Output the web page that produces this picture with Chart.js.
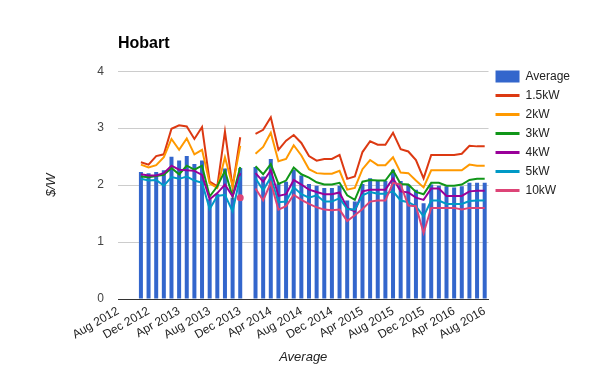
<!DOCTYPE html>
<html>
<head>
<meta charset="utf-8">
<script src="https://cdn.jsdelivr.net/npm/chart.js@4/dist/chart.umd.min.js"></script>
<style>
  html, body { margin: 0; padding: 0; background: #fff; }
</style>
</head>
<body>
<canvas id="chart" width="600" height="371"></canvas>
<script>
// monthly data, Nov 2012 .. Aug 2016 (Jan 2014 missing)
const months = [
  'Nov 2012', 'Dec 2012',
  'Jan 2013', 'Feb 2013', 'Mar 2013', 'Apr 2013', 'May 2013', 'Jun 2013',
  'Jul 2013', 'Aug 2013', 'Sep 2013', 'Oct 2013', 'Nov 2013', 'Dec 2013',
  'Jan 2014', 'Feb 2014', 'Mar 2014', 'Apr 2014', 'May 2014', 'Jun 2014',
  'Jul 2014', 'Aug 2014', 'Sep 2014', 'Oct 2014', 'Nov 2014', 'Dec 2014',
  'Jan 2015', 'Feb 2015', 'Mar 2015', 'Apr 2015', 'May 2015', 'Jun 2015',
  'Jul 2015', 'Aug 2015', 'Sep 2015', 'Oct 2015', 'Nov 2015', 'Dec 2015',
  'Jan 2016', 'Feb 2016', 'Mar 2016', 'Apr 2016', 'May 2016', 'Jun 2016',
  'Jul 2016', 'Aug 2016'
];

const tickLabels = ['Aug 2012', 'Dec 2012', 'Apr 2013', 'Aug 2013', 'Dec 2013', 'Apr 2014',
  'Aug 2014', 'Dec 2014', 'Apr 2015', 'Aug 2015', 'Dec 2015', 'Apr 2016', 'Aug 2016'];

const average = [2.23, 2.21,
  2.23, 2.26, 2.50, 2.43, 2.51, 2.37, 2.43, 1.75, 1.85, 2.29, 1.78, 2.30,
  null, 2.32, 2.15, 2.46, 2.03, 2.06, 2.27, 2.17, 2.02, 1.99, 1.95, 1.95,
  1.99, 1.73, 1.71, 2.02, 2.12, 2.07, 2.07, 2.27, 2.07, 2.01, 1.92, 1.68,
  2.01, 1.99, 1.98, 1.96, 1.98, 2.04, 2.04, 2.04];

const kw1_5 = [2.40, 2.36,
  2.51, 2.54, 2.99, 3.05, 3.03, 2.81, 3.02, 2.06, 1.98, 2.94, 1.96, 2.84,
  null, 2.90, 2.97, 3.19, 2.62, 2.78, 2.88, 2.74, 2.51, 2.43, 2.46, 2.46,
  2.53, 2.11, 2.15, 2.58, 2.77, 2.71, 2.71, 2.92, 2.63, 2.59, 2.44, 2.12,
  2.53, 2.53, 2.53, 2.53, 2.55, 2.69, 2.68, 2.68];

const kw2 = [2.36, 2.31,
  2.35, 2.49, 2.81, 2.62, 2.82, 2.54, 2.62, 2.03, 1.95, 2.49, 1.98, 2.69,
  null, 2.55, 2.67, 2.92, 2.42, 2.46, 2.70, 2.52, 2.28, 2.21, 2.20, 2.20,
  2.25, 1.92, 1.95, 2.28, 2.44, 2.35, 2.35, 2.49, 2.22, 2.21, 2.08, 1.96,
  2.26, 2.26, 2.26, 2.26, 2.26, 2.36, 2.34, 2.34];

const kw3 = [2.15, 2.14,
  2.16, 2.18, 2.30, 2.19, 2.34, 2.27, 2.34, 1.80, 1.98, 2.25, 1.80, 2.32,
  null, 2.33, 2.19, 2.37, 2.02, 2.08, 2.31, 2.19, 2.13, 2.05, 2.01, 2.01,
  2.04, 1.82, 1.74, 2.06, 2.09, 2.08, 2.08, 2.26, 2.02, 2.01, 1.88, 1.84,
  2.04, 2.04, 1.99, 1.99, 2.01, 2.09, 2.11, 2.11];

const kw4 = [2.19, 2.17,
  2.17, 2.21, 2.34, 2.27, 2.26, 2.25, 2.18, 1.75, 1.86, 2.01, 1.80, 2.21,
  null, 2.21, 2.06, 2.26, 1.81, 1.84, 2.09, 2.01, 1.92, 1.88, 1.84, 1.84,
  1.87, 1.60, 1.54, 1.89, 1.92, 1.92, 1.92, 2.12, 1.89, 1.87, 1.78, 1.74,
  1.94, 1.94, 1.81, 1.81, 1.81, 1.89, 1.90, 1.90];

const kw5 = [2.11, 2.08,
  2.09, 1.99, 2.14, 2.11, 2.15, 2.08, 2.04, 1.58, 1.81, 1.83, 1.54, 2.15,
  null, 2.12, 1.91, 2.14, 1.70, 1.71, 1.96, 1.84, 1.78, 1.82, 1.71, 1.71,
  1.77, 1.58, 1.57, 1.82, 1.88, 1.85, 1.85, 1.89, 1.73, 1.70, 1.63, 1.45,
  1.73, 1.73, 1.67, 1.67, 1.67, 1.72, 1.73, 1.73];

const kw10 = [null, null,
  null, null, null, null, null, null, null, null, null, null, null, 1.78,
  null, 1.94, 1.73, 2.04, 1.57, 1.63, 1.83, 1.74, 1.67, 1.61, 1.57, 1.56,
  1.57, 1.37, 1.47, 1.58, 1.71, 1.73, 1.73, 2.04, 2.01, 1.64, 1.63, 1.16,
  1.60, 1.60, 1.60, 1.60, 1.57, 1.60, 1.60, 1.60];

const monthNames = ['Jan', 'Feb', 'Mar', 'Apr', 'May', 'Jun', 'Jul', 'Aug', 'Sep', 'Oct', 'Nov', 'Dec'];

// months since Aug 2012
function monthIndex(label) {
  const [m, y] = label.split(' ');
  return (Number(y) - 2012) * 12 + monthNames.indexOf(m) - 7;
}

function points(values) {
  return values.map((v, i) => ({ x: monthIndex(months[i]), y: v }));
}

// a point with no neighbours gets a dot, like the original
function isolatedRadius(ctx) {
  const d = ctx.dataset.data;
  const i = ctx.dataIndex;
  if (!d[i] || d[i].y == null) return 0;
  const prev = d[i - 1] ? d[i - 1].y : null;
  const next = d[i + 1] ? d[i + 1].y : null;
  return prev == null && next == null ? 2.5 : 0;
}

function lineSet(label, values, color, order) {
  return {
    type: 'line',
    label: label,
    data: points(values),
    borderColor: color,
    backgroundColor: color,
    borderWidth: 2,
    tension: 0,
    pointRadius: isolatedRadius,
    pointHoverRadius: 0,
    spanGaps: false,
    order: order
  };
}

Chart.defaults.font.family = 'Arial, "Liberation Sans", sans-serif';
Chart.defaults.color = '#222';

new Chart(document.getElementById('chart'), {
  type: 'bar',
  data: {
    datasets: [
      {
        label: 'Average',
        data: points(average),
        backgroundColor: '#3366cc',
        barThickness: 4,
        maxBarThickness: 4,
        inflateAmount: 0,
        order: 10
      },
      lineSet('1.5kW', kw1_5, '#dc3912', 6),
      lineSet('2kW', kw2, '#ff9900', 5),
      lineSet('3kW', kw3, '#109618', 4),
      lineSet('4kW', kw4, '#990099', 3),
      lineSet('5kW', kw5, '#0099c6', 2),
      lineSet('10kW', kw10, '#dd4477', 1)
    ]
  },
  options: {
    responsive: false,
    animation: false,
    layout: { padding: { right: 20 } },
    plugins: {
      title: {
        display: true,
        text: 'Hobart',
        align: 'start',
        fullSize: false,
        color: '#000',
        font: { size: 16, weight: 'bold' },
        padding: { top: 34, bottom: 18 }
      },
      legend: {
        position: 'right',
        align: 'start',
        title: { display: true, text: '', padding: { top: 49, bottom: 0 } },
        labels: {
          usePointStyle: true,
          pointStyleWidth: 24,
          boxHeight: 12,
          padding: 7,
          color: '#222',
          font: { size: 12 },
          sort: (a, b) => a.datasetIndex - b.datasetIndex,
          generateLabels(chart) {
            const items = Chart.defaults.plugins.legend.labels.generateLabels(chart);
            items.forEach(it => {
              const ds = chart.data.datasets[it.datasetIndex];
              const isBar = ds.type !== 'line';
              const c = isBar ? ds.backgroundColor : ds.borderColor;
              it.pointStyle = isBar ? 'rect' : 'line';
              it.fillStyle = c;
              it.strokeStyle = c;
              it.lineWidth = isBar ? 0 : 3;
            });
            return items;
          }
        }
      },
      tooltip: { enabled: false }
    },
    scales: {
      x: {
        type: 'linear',
        offset: false,
        min: 0,
        max: 48.5,
        afterBuildTicks: s => { s.ticks = tickLabels.map(l => ({ value: monthIndex(l) })); },
        afterFit: s => { s.height = 72; },
        grid: { display: false, drawTicks: false },
        border: { display: true, color: '#333', width: 1 },
        ticks: {
          autoSkip: false,
          minRotation: 30,
          maxRotation: 30,
          padding: 5,
          color: '#222',
          font: { size: 12 },
          callback: v => tickLabels.find(l => monthIndex(l) === v) || ''
        },
        title: {
          display: true,
          text: 'Average',
          color: '#222',
          font: { size: 13, style: 'italic' },
          padding: { top: 0, bottom: 6 }
        }
      },
      y: {
        min: 0,
        max: 4,
        afterFit: s => { s.width = 118; },
        grid: { color: '#cccccc', drawTicks: false },
        border: { display: false },
        ticks: { stepSize: 1, padding: 14, color: '#444', font: { size: 12 } },
        title: {
          display: true,
          text: '$/W',
          color: '#222',
          font: { size: 13, style: 'italic' },
          padding: { top: 44, bottom: 0 }
        }
      }
    }
  }
});
</script>
</body>
</html>
